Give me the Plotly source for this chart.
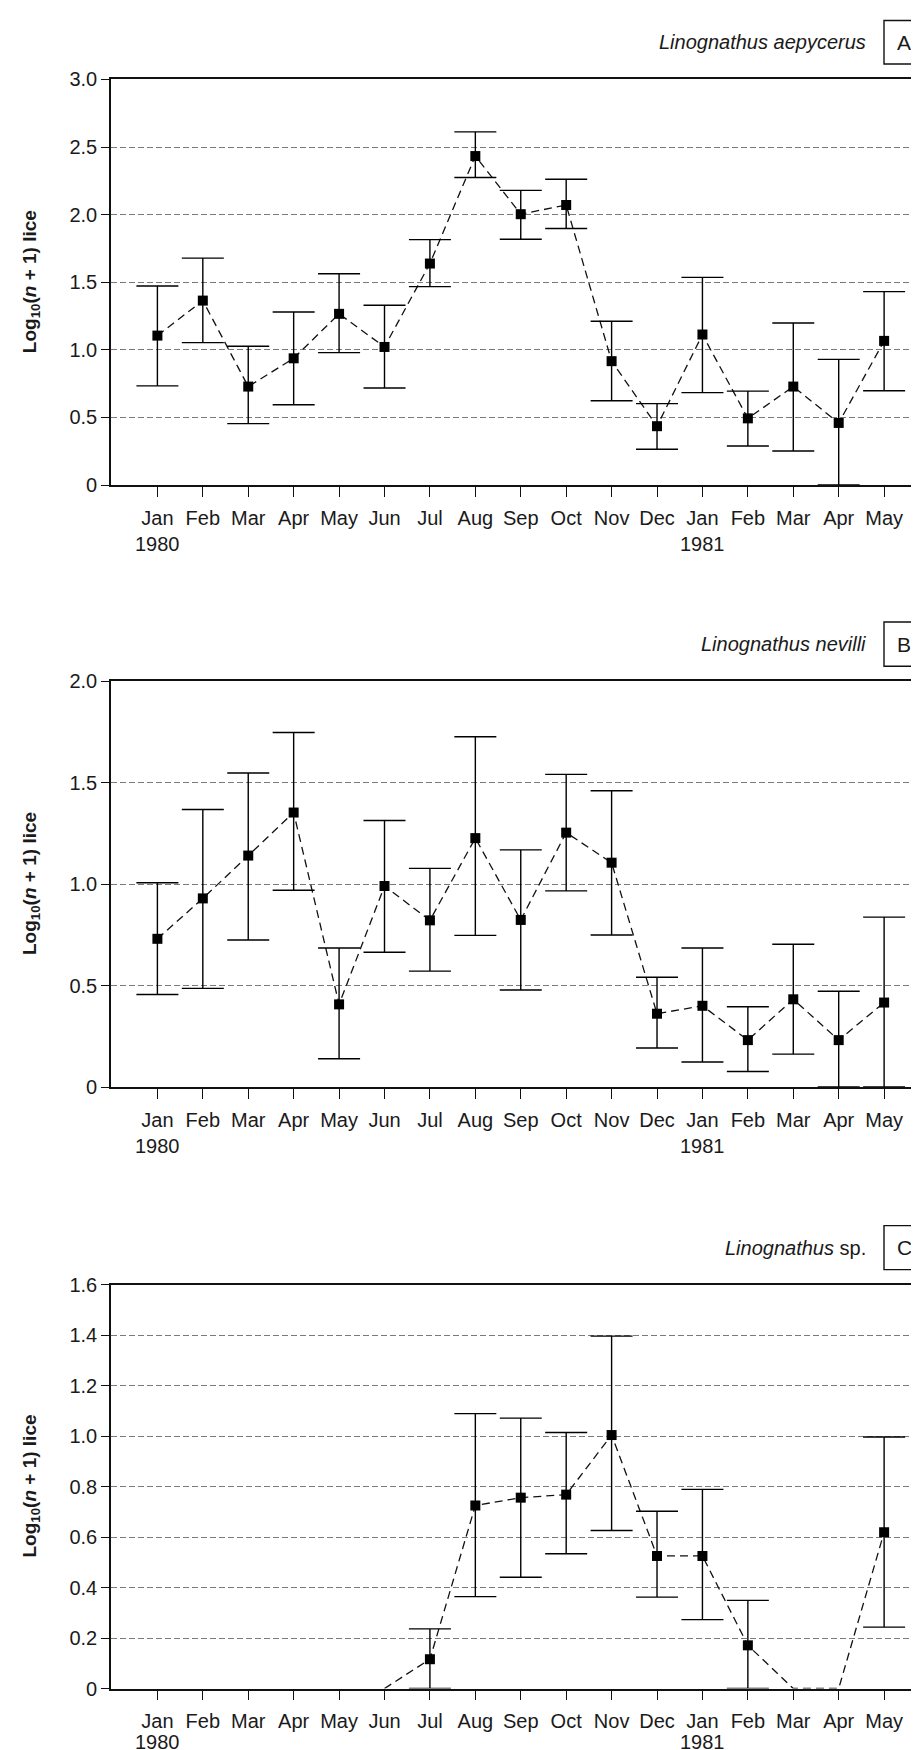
import plotly.graph_objects as go

months = ["Jan", "Feb", "Mar", "Apr", "May", "Jun", "Jul", "Aug", "Sep",
          "Oct", "Nov", "Dec", "Jan", "Feb", "Mar", "Apr", "May"]
years = ["1980", "1981"]
year_idx = [0, 12]

# Panel A: Linognathus aepycerus
a_mean = [1.105, 1.364, 0.728, 0.937, 1.266, 1.021, 1.638, 2.433, 2.003,
          2.071, 0.916, 0.435, 1.113, 0.493, 0.728, 0.459, 1.066]
a_upper = [1.472, 1.678, 1.026, 1.280, 1.562, 1.330, 1.815, 2.612, 2.179,
           2.261, 1.211, 0.602, 1.536, 0.694, 1.198, 0.929, 1.430]
a_lower = [0.733, 1.053, 0.454, 0.594, 0.979, 0.718, 1.467, 2.274, 1.818,
           1.897, 0.623, 0.264, 0.683, 0.288, 0.251, 0.000, 0.697]

# Panel B: Linognathus nevilli
b_mean = [0.730, 0.929, 1.140, 1.352, 0.407, 0.990, 0.821, 1.226, 0.823,
          1.253, 1.105, 0.361, 0.400, 0.231, 0.432, 0.231, 0.416]
b_upper = [1.006, 1.367, 1.547, 1.746, 0.685, 1.313, 1.077, 1.725, 1.168,
           1.540, 1.459, 0.541, 0.685, 0.395, 0.703, 0.472, 0.837]
b_lower = [0.456, 0.486, 0.724, 0.969, 0.139, 0.664, 0.571, 0.747, 0.478,
           0.966, 0.749, 0.192, 0.123, 0.076, 0.162, 0.000, 0.000]

# Panel C: Linognathus sp. (None = no sample plotted)
c_mean = [None, None, None, None, None, 0.0, 0.116, 0.725, 0.756,
          0.768, 1.004, 0.525, 0.525, 0.171, 0.0, 0.0, 0.619]
c_upper = [None, None, None, None, None, None, 0.236, 1.089, 1.071,
           1.014, 1.396, 0.702, 0.789, 0.349, None, None, 0.996]
c_lower = [None, None, None, None, None, None, 0.000, 0.364, 0.441,
           0.534, 0.626, 0.362, 0.273, 0.000, None, None, 0.243]

a_ticks = [0, 0.5, 1.0, 1.5, 2.0, 2.5, 3.0]
a_ticktext = ["0", "0.5", "1.0", "1.5", "2.0", "2.5", "3.0"]
b_ticks = [0, 0.5, 1.0, 1.5, 2.0]
b_ticktext = ["0", "0.5", "1.0", "1.5", "2.0"]
c_ticks = [0, 0.2, 0.4, 0.6, 0.8, 1.0, 1.2, 1.4, 1.6]
c_ticktext = ["0", "0.2", "0.4", "0.6", "0.8", "1.0", "1.2", "1.4", "1.6"]

species = ["<i>Linognathus aepycerus</i>", "<i>Linognathus nevilli</i>",
           "<i>Linognathus</i> sp."]
letters = ["A", "B", "C"]

W, H = 919, 1750
FONT = "Liberation Sans, Arial, Helvetica, sans-serif"
TXT = "#1a1a1a"

panels = [
    dict(mean=a_mean, up=a_upper, lo=a_lower, ticks=a_ticks, tt=a_ticktext, top=71.4, bot=477.0, box=(12.5, 56.0), yoff=59.5),
    dict(mean=b_mean, up=b_upper, lo=b_lower, ticks=b_ticks, tt=b_ticktext, top=673.0, bot=1079.0, box=(614.0, 658.3), yoff=59.0),
    dict(mean=c_mean, up=c_upper, lo=c_lower, ticks=c_ticks, tt=c_ticktext, top=1276.6, bot=1680.5, box=(1217.6, 1261.6), yoff=53.5),
]

x_left_px, x_right_px = 103.0, 917.0
jan_px, step_px = 149.4, 45.42
xr = [(x_left_px - jan_px) / step_px, (x_right_px - jan_px) / step_px]
xdom = [x_left_px / W, x_right_px / W]

fig = go.Figure()
layout = dict(width=W, height=H, margin=dict(l=0, r=0, t=0, b=0, autoexpand=False),
              paper_bgcolor="white", plot_bgcolor="white", showlegend=False,
              font=dict(family=FONT, size=20, color=TXT))
annotations = []
shapes = []

xs = list(range(len(months)))
for i, p in enumerate(panels):
    n = "" if i == 0 else str(i + 1)
    xa, ya = "x" + n, "y" + n
    mean = p["mean"]
    up_err = [None if (u is None or m is None) else u - m for u, m in zip(p["up"], mean)]
    lo_err = [None if (l is None or m is None) else m - l for l, m in zip(p["lo"], mean)]
    mk = [None if (u is None) else m for u, m in zip(p["up"], mean)]
    # dashed connecting line
    fig.add_trace(go.Scatter(x=xs, y=mean, mode="lines", xaxis=xa, yaxis=ya,
                             line=dict(color="#111", width=1.3, dash="8px,5px"),
                             connectgaps=False, hoverinfo="skip", cliponaxis=False))
    # markers with asymmetric error bars
    fig.add_trace(go.Scatter(x=xs, y=mk, mode="markers", xaxis=xa, yaxis=ya,
                             marker=dict(symbol="square", size=10, color="black"),
                             error_y=dict(type="data", symmetric=False, array=up_err,
                                          arrayminus=lo_err, color="black",
                                          thickness=1.4, width=21),
                             cliponaxis=False))
    ydom = [1 - p["bot"] / H, 1 - p["top"] / H]
    layout["xaxis" + n] = dict(domain=xdom, range=xr, anchor=ya, tickmode="array",
                               tickvals=xs, ticktext=months, ticks="outside", ticklen=10,
                               tickwidth=1.3, tickcolor="#111", showline=True,
                               linecolor="#111", linewidth=1.6, mirror=True,
                               showgrid=False, zeroline=False, ticklabelstandoff=4,
                               tickfont=dict(size=20, family=FONT, color=TXT))
    layout["yaxis" + n] = dict(domain=ydom, range=[0, p["ticks"][-1]], anchor=xa,
                               tickmode="array", tickvals=p["ticks"], ticktext=p["tt"],
                               ticks="outside", ticklen=8, tickwidth=1.3, tickcolor="#111",
                               showline=True, linecolor="#111", linewidth=1.6, mirror=True,
                               showgrid=True, gridcolor="#7a7a7a", gridwidth=1,
                               griddash="6px,3px", zeroline=False,
                               tickfont=dict(size=20, family=FONT, color=TXT))
    # year labels
    for yr, xi in zip(years, year_idx):
        annotations.append(dict(x=xi, xref=xa, y=1 - (p["bot"] + p["yoff"]) / H, yref="paper",
                                text=yr, showarrow=False, xanchor="center", yanchor="middle",
                                font=dict(size=20, family=FONT, color=TXT)))
    # y-axis title
    annotations.append(dict(x=23 / W, xref="paper", y=(ydom[0] + ydom[1]) / 2, yref="paper",
                            text="<b>Log<sub>10</sub>(<i>n</i> + 1) lice</b>", textangle=-90,
                            showarrow=False, xanchor="center", yanchor="middle",
                            font=dict(size=19, family=FONT, color=TXT)))
    # species label and letter box
    b0, b1 = p["box"]
    cy = 1 - (b0 + b1) / 2 / H
    annotations.append(dict(x=860 / W, xref="paper", y=cy, yref="paper", text=species[i],
                            showarrow=False, xanchor="right", yanchor="middle",
                            font=dict(size=20, family=FONT, color=TXT)))
    annotations.append(dict(x=896 / W, xref="paper", y=cy, yref="paper", text=letters[i],
                            showarrow=False, xanchor="center", yanchor="middle",
                            font=dict(size=21, family=FONT, color=TXT)))
    shapes.append(dict(type="rect", xref="paper", yref="paper", x0=876 / W, x1=930 / W,
                       y0=1 - b1 / H, y1=1 - b0 / H, line=dict(color="#111", width=1.4)))

layout["annotations"] = annotations
layout["shapes"] = shapes
fig.update_layout(**layout)
fig.write_html("out.html")
